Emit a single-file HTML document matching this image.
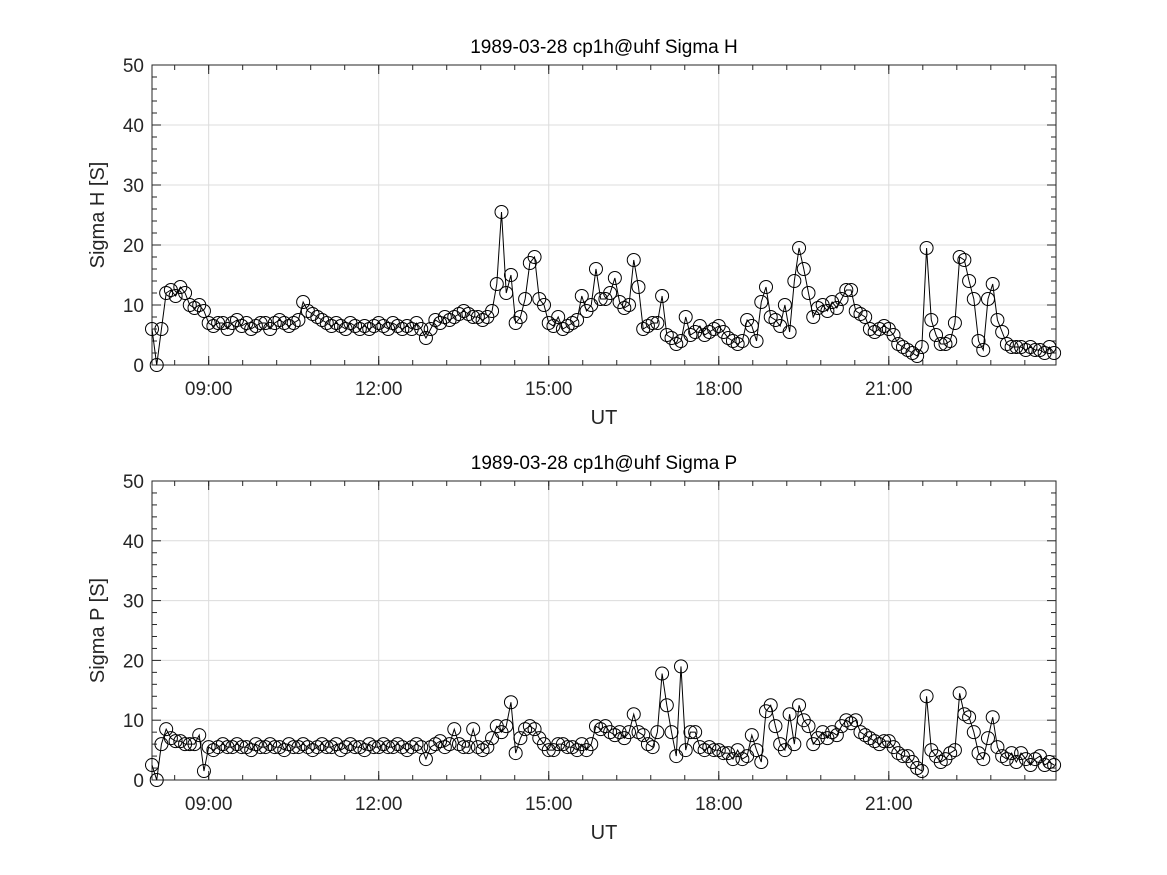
<!DOCTYPE html>
<html><head><meta charset="utf-8"><style>
body{margin:0;background:#fff;}
svg{display:block;font-family:"Liberation Sans","DejaVu Sans",sans-serif;}
</style></head><body>
<svg id="fig" width="1167" height="875" viewBox="0 0 1167 875" xmlns="http://www.w3.org/2000/svg"></svg>
<script>
const tickHours=[9,12,15,18,21];
const tickLabels=["09:00","12:00","15:00","18:00","21:00"];
const yTicks=[0,10,20,30,40,50];
const sigmaH=[
6,0,6,12,12.5,11.5,13,12,10,9.5,10,9,
7,6.5,7,7,6,7,7.5,6.5,7,6,6.5,7,
7,6,7,7.5,7,6.5,7,7.5,10.5,9,8.5,8,
7.5,7,6.5,7,6.5,6,7,6.5,6,6.5,6,6.5,
7,6.5,6,7,6.5,6,6.5,6,7,6,4.5,6,
7.5,7,8,7.5,8,8.5,9,8.5,8,8,7.5,8,
9,13.5,25.5,12,15,7,8,11,17,18,11,10,
7,6.5,8,6,6.5,7,7.5,11.5,9,10,16,11,
11,12,14.5,10.5,9.5,10,17.5,13,6,6.5,7,7,
11.5,5,4.5,3.5,4,8,5,5.5,6.5,5,5.5,6,
6.5,5.5,4.5,4,3.5,4,7.5,6.5,4,10.5,13,8,
7.5,6.5,10,5.5,14,19.5,16,12,8,9.5,10,9,
10.5,9.5,11,12.5,12.5,9,8.5,8,6,5.5,6,6.5,
6,5,3.5,3,2.5,2,1.5,3,19.5,7.5,5,3.5,
3.5,4,7,18,17.5,14,11,4,2.5,11,13.5,7.5,
5.5,3.5,3,3,3,2.5,3,2.5,2.5,2,3,2
];
const sigmaP=[
2.5,0,6,8.5,7,6.5,6.5,6,6,6,7.5,1.5,
5.5,5,5.5,6,5.5,5.5,6,5.5,5.5,5,6,5.5,
5.5,6,5.5,5.5,5,6,5.5,5.5,6,5.5,5,5.5,
6,5.5,5.5,6,5,5.5,6,5.5,5.5,5,6,5.5,
5.5,6,5.5,5.5,6,5.5,5,5.5,6,5.5,3.5,5.5,
6,6.5,5.5,6,8.5,6,5.5,5.5,8.5,5.5,5,5.5,
7,9,8,9,13,4.5,7,8.5,9,8.5,7,6,
5,5,6,6,5.5,5.5,5,6,5,6,9,8.5,
9,8,7.5,8,7,8,11,8,7.5,6,5.5,8,
17.8,12.5,8,4,19,5,8,8,5.5,5,5.5,5,
5,4.5,4.5,3.5,5,3.5,4,7.5,5,3,11.5,12.5,
9,6,5,11,6,12.5,10,9,6,7,8,7,
8,7.5,9,10,9.5,10,8,7.5,7,6.5,6,6.5,
6.5,5.5,4.5,4,4,3,2,1.5,14,5,4,3,
3.5,4.5,5,14.5,11,10.5,8,4.5,3.5,7,10.5,5.5,
4,3.5,4.5,3,4.5,3.5,2.5,3.5,4,2.5,3,2.5
];
const startHour=8, stepMin=5;
const NS="http://www.w3.org/2000/svg";
const svg=document.getElementById('fig');
function mk(tag,attrs,parent){const e=document.createElementNS(NS,tag);for(const k in attrs)e.setAttribute(k,attrs[k]);(parent||svg).appendChild(e);return e;}
const X0=152,X1=1056,H0=8,H1=23.95;
function xs(h){return X0+(h-H0)/(H1-H0)*(X1-X0);}
function drawPanel(top,bottom,vals,title,ylab,prefix){
  const g=mk('g',{});
  
  
  const ys=v=>bottom-(v/50)*(bottom-top);
  mk('rect',{x:X0,y:top,width:X1-X0,height:bottom-top,fill:'#fff'},g);
  // grid
  tickHours.forEach(h=>{const l=mk('line',{x1:xs(h),x2:xs(h),y1:top,y2:bottom,stroke:'#dcdcdc','stroke-width':1},g);
    
    });
  yTicks.forEach(v=>{const l=mk('line',{x1:X0,x2:X1,y1:ys(v),y2:ys(v),stroke:'#dcdcdc','stroke-width':1},g);
    
    });
  // minor ticks
  for(let v=0;v<=50;v+=2){const y=ys(v);const L=(v%10===0)?9:5;
    mk('line',{x1:X0,x2:X0+L,y1:y,y2:y,stroke:'#262626'},g);
    mk('line',{x1:X1,x2:X1-L,y1:y,y2:y,stroke:'#262626'},g);}
  for(let h=9-0.6*2;h<=H1;h+=0.6){const x=xs(h);if(x<X0-1)continue;
    mk('line',{x1:x,x2:x,y1:bottom,y2:bottom-5,stroke:'#262626'},g);
    mk('line',{x1:x,x2:x,y1:top,y2:top+5,stroke:'#262626'},g);}
  tickHours.forEach((h,i)=>{const x=xs(h);
    mk('line',{x1:x,x2:x,y1:bottom,y2:bottom-9,stroke:'#262626'},g);
    mk('line',{x1:x,x2:x,y1:top,y2:top+9,stroke:'#262626'},g);
    const t=mk('text',{x:x,y:bottom+30,'font-size':19,'text-anchor':'middle',fill:'#262626'},g);
    t.textContent=tickLabels[i];
    
    });
  yTicks.forEach(v=>{const t=mk('text',{x:X0-8,y:ys(v)+7,'font-size':19,'text-anchor':'end',fill:'#262626'},g);
    t.textContent=v;
    
    });
  mk('rect',{x:X0,y:top,width:X1-X0,height:bottom-top,fill:'none',stroke:'#262626','stroke-width':1},g);
  // series
  const pts=vals.map((v,i)=>[xs(startHour+i*stepMin/60),ys(v)]);
  const pl=mk('polyline',{points:pts.map(p=>p.join(',')).join(' '),fill:'none',stroke:'#000','stroke-width':1},g);
  
  
  pts.forEach(p=>{const c=mk('circle',{cx:p[0],cy:p[1],r:6.5,fill:'none',stroke:'#000','stroke-width':1},g);
    
    });
  const tt=mk('text',{x:(X0+X1)/2,y:top-12,'font-size':19,'text-anchor':'middle',fill:'#000'},g);
  tt.textContent=title;
  
  
  const xl=mk('text',{x:(X0+X1)/2,y:bottom+59,'font-size':20,'text-anchor':'middle',fill:'#262626'},g);
  xl.textContent='UT';
  
  
  const cy=(top+bottom)/2;
  const yl=mk('text',{x:104,y:cy,'font-size':20,'text-anchor':'middle',fill:'#262626',transform:'rotate(-90 104 '+cy+')'},g);
  yl.textContent=ylab;
  
  
}
drawPanel(65,365,sigmaH,'1989-03-28  cp1h@uhf Sigma H','Sigma H [S]','sigma-h');
drawPanel(481,780,sigmaP,'1989-03-28  cp1h@uhf Sigma P','Sigma P [S]','sigma-p');
</script>
</body></html>
